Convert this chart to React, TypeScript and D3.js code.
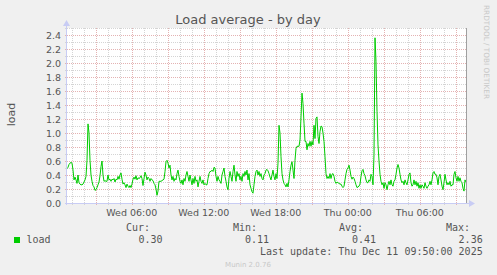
import React from 'react';
import * as d3 from 'd3';

const W = 497;
const H = 275;
const START = new Date(2025, 11, 10, 0, 36);
const STEP_MINUTES = 5;

const loadWedEarly = [
  0.49, 0.51, 0.55, 0.57, 0.58, 0.57, 0.47, 0.33, 0.37, 0.33,
  0.28, 0.40, 0.29, 0.27, 0.26, 0.26, 0.27, 0.30, 0.33, 0.38,
  0.61, 1.13, 1.00, 0.61, 0.40, 0.31, 0.25, 0.23, 0.18, 0.19,
  0.22, 0.26, 0.30, 0.39, 0.52, 0.60, 0.40, 0.31, 0.32, 0.31,
  0.31, 0.40, 0.33, 0.34, 0.31, 0.34, 0.33, 0.35, 0.30, 0.34,
  0.33, 0.38, 0.34, 0.40, 0.43, 0.34, 0.27, 0.29, 0.26, 0.22,
  0.27, 0.24, 0.22, 0.25, 0.22, 0.27, 0.34, 0.37, 0.34, 0.39,
  0.33, 0.36, 0.35, 0.36, 0.39, 0.35, 0.25, 0.35, 0.44, 0.40,
  0.33, 0.37, 0.35, 0.31, 0.35, 0.33, 0.32, 0.28, 0.26, 0.20,
  0.11, 0.17, 0.31, 0.31, 0.31, 0.32, 0.33, 0.34, 0.45, 0.59,
  0.61,
];

const loadWedMid = [
  0.57, 0.50, 0.54, 0.40, 0.33, 0.38, 0.31, 0.35, 0.33, 0.42,
  0.47, 0.38, 0.31, 0.28, 0.33, 0.26, 0.35, 0.31, 0.40, 0.45,
  0.38, 0.31, 0.40, 0.33, 0.26, 0.35, 0.28, 0.38, 0.31, 0.33,
  0.23, 0.31, 0.38, 0.31, 0.28, 0.33, 0.26, 0.28, 0.26, 0.26,
  0.35, 0.42, 0.45, 0.45, 0.47, 0.45, 0.51, 0.50, 0.38, 0.31,
  0.38, 0.33, 0.31, 0.28, 0.40, 0.45, 0.50, 0.38, 0.31, 0.23,
  0.19, 0.35, 0.45, 0.38, 0.31, 0.45, 0.54, 0.40, 0.31, 0.45,
  0.38, 0.42, 0.33, 0.38, 0.31, 0.42, 0.38, 0.45, 0.40, 0.47,
  0.33, 0.42, 0.26, 0.21, 0.16, 0.14, 0.26, 0.38, 0.45, 0.47,
  0.40, 0.45, 0.38, 0.42, 0.35, 0.33, 0.40, 0.42, 0.47, 0.48,
];

const loadWedLate = [
  0.46, 0.42, 0.37, 0.33, 0.40, 0.47, 0.38, 0.33, 0.42, 0.35,
  0.57, 1.11, 1.00, 0.66, 0.42, 0.33, 0.28, 0.26, 0.23, 0.28,
  0.23, 0.33, 0.45, 0.54, 0.59, 0.47, 0.35, 0.61, 0.78, 0.81,
  0.81, 0.81, 0.90, 1.23, 1.57, 1.42, 1.14, 0.88, 0.88, 0.76,
  0.85, 0.81, 0.88, 0.81, 0.88, 0.83, 1.11, 0.92, 1.21, 1.23,
  0.95, 0.85, 1.02, 1.10, 1.09, 1.00, 0.88, 0.66, 0.42, 0.35,
  0.38, 0.35, 0.42, 0.35, 0.41, 0.42, 0.38, 0.31, 0.28, 0.30,
  0.29, 0.28, 0.27, 0.27, 0.24, 0.22, 0.24, 0.33, 0.42, 0.48,
  0.50, 0.54, 0.47, 0.38, 0.34, 0.37, 0.35, 0.31, 0.26, 0.22,
  0.23, 0.24, 0.27, 0.38, 0.46, 0.48, 0.42, 0.39, 0.33, 0.29,
];

const loadThu = [
  0.29, 0.33, 0.31, 0.41, 0.38, 0.26, 0.69, 2.36, 2.02, 1.31,
  0.83, 0.60, 0.41, 0.31, 0.26, 0.29, 0.21, 0.29, 0.26, 0.19,
  0.26, 0.31, 0.26, 0.33, 0.26, 0.24, 0.31, 0.33, 0.41, 0.50,
  0.55, 0.50, 0.41, 0.33, 0.29, 0.31, 0.26, 0.33, 0.29, 0.26,
  0.33, 0.41, 0.43, 0.29, 0.24, 0.26, 0.33, 0.26, 0.31, 0.24,
  0.29, 0.21, 0.26, 0.21, 0.26, 0.24, 0.21, 0.29, 0.24, 0.21,
  0.24, 0.26, 0.31, 0.26, 0.33, 0.43, 0.45, 0.41, 0.41, 0.36,
  0.26, 0.38, 0.41, 0.33, 0.24, 0.19, 0.29, 0.41, 0.33, 0.26,
  0.29, 0.26, 0.31, 0.24, 0.26, 0.26, 0.41, 0.45, 0.36, 0.31,
  0.38, 0.31, 0.36, 0.31, 0.29, 0.21, 0.17, 0.33, 0.30,
];

const loadValues = [...loadWedEarly, ...loadWedMid, ...loadWedLate, ...loadThu];

const yMax = 2.5;
const yLabelTicks = [0, 0.2, 0.4, 0.6, 0.8, 1.0, 1.2, 1.4, 1.6, 1.8, 2.0, 2.2, 2.4];
const yGridTicks = [0.1, 0.2, 0.3, 0.4, 0.5, 0.6, 0.7, 0.8, 0.9, 1.0, 1.1, 1.2, 1.3,
  1.4, 1.5, 1.6, 1.7, 1.8, 1.9, 2.0, 2.1, 2.2, 2.3, 2.4, 2.5];

const seriesName = 'load';
const legendHeaders = ['Cur:', 'Min:', 'Avg:', 'Max:'];
const legendValues = ['0.30', '0.11', '0.41', '2.36'];
const titleText = 'Load average - by day';
const yAxisLabel = 'load';
const lastUpdate = 'Last update: Thu Dec 11 09:50:00 2025';
const footer = 'Munin 2.0.76';
const watermark = 'RRDTOOL / TOBI OETIKER';

export default function App() {
  const left = 67, right = 467, top = 28, bottom = 203;
  const stepMs = STEP_MINUTES * 60000;
  const end = new Date(START.getTime() + loadValues.length * stepMs);
  const x = d3.scaleTime().domain([START, end]).range([left, right]);
  const y = d3.scaleLinear().domain([0, yMax]).range([bottom, top]);
  const data = loadValues.map((v, i) => ({ t: new Date(START.getTime() + i * stepMs), v }));
  const line = d3.line<{ t: Date; v: number }>().x(d => x(d.t)).y(d => y(d.v));
  const hours = d3.timeHour.range(new Date(START.getTime() + 1), end);
  const fmt = d3.timeFormat('%a %H:%M');
  const sans = 'DejaVu Sans, sans-serif';
  const mono = 'DejaVu Sans Mono, monospace';
  const txt = '#555555';
  const axisCol = '#c8ccf4';
  const majorCol = '#e4b2b2';
  const minorCol = '#d4d4d4';
  const legX = [150, 257, 363, 470];
  const valX = [162.5, 269, 376, 482.7];

  return (
    <svg width={W} height={H} style={{ position: 'absolute', left: 0, top: 0 }}
      xmlns="http://www.w3.org/2000/svg">
      <rect x={0} y={0} width={W} height={H} fill="#f0f0f0" />
      <rect x={left} y={top} width={right - left} height={bottom - top} fill="#ffffff" />
      {yGridTicks.map(v => {
        const major = Math.abs(Math.round(v * 10) % 2) === 0;
        const yy = Math.round(y(v)) + 0.5;
        return (
          <line key={'h' + v} x1={left - 2} x2={right} y1={yy} y2={yy}
            stroke={major ? majorCol : minorCol} strokeWidth={1} strokeDasharray="1,1" />
        );
      })}
      {hours.map(h => {
        const major = h.getHours() % 3 === 0;
        const xx = Math.round(x(h)) + 0.5;
        return (
          <line key={'v' + h.getTime()} x1={xx} x2={xx} y1={top} y2={bottom + 2}
            stroke={major ? majorCol : minorCol} strokeWidth={1} strokeDasharray="1,1" />
        );
      })}
      <path d={line(data) || ''} fill="none" stroke="#00cc00" strokeWidth={1} />
      <line x1={right - 0.5} x2={right - 0.5} y1={top} y2={bottom} stroke="#a0a0a0" />
      <line x1={left - 2} x2={right + 3} y1={bottom + 0.5} y2={bottom + 0.5} stroke={axisCol} />
      <line x1={left - 0.5} x2={left - 0.5} y1={bottom + 2} y2={top - 4} stroke={axisCol} />
      <path d={`M${right + 2},${bottom - 3} L${right + 8},${bottom + 0.5} L${right + 2},${bottom + 4} Z`} fill={axisCol} />
      <path d={`M${left - 4},${top - 2} L${left - 0.5},${top - 8} L${left + 3},${top - 2} Z`} fill={axisCol} />
      {yLabelTicks.map(v => (
        <text key={'yl' + v} x={61} y={y(v) + 3.5} textAnchor="end" fontFamily={sans}
          fontSize={9.5} fill={txt}>{v.toFixed(1)}</text>
      ))}
      {hours.filter(h => h.getHours() % 6 === 0).map(h => (
        <text key={'xl' + h.getTime()} x={x(h)} y={215.5} textAnchor="middle" fontFamily={sans}
          fontSize={9.5} fill={txt}>{fmt(h)}</text>
      ))}
      <text x={248} y={24} textAnchor="middle" fontFamily={sans} fontSize={13} fill={txt}>{titleText}</text>
      <text transform="translate(15,114.5) rotate(-90)" textAnchor="middle" fontFamily={sans}
        fontSize={11} fill={txt}>{yAxisLabel}</text>
      <text transform="translate(484,5) rotate(90)" fontFamily={sans} fontSize={7.3}
        fill="#c8c8c8">{watermark}</text>
      <rect x={14} y={237} width={6} height={6} fill="#00cc00" />
      <text x={26.5} y={243} fontFamily={mono} fontSize={10} fill={txt}>{seriesName}</text>
      {legendHeaders.map((s, i) => (
        <text key={'lh' + i} x={legX[i]} y={231} textAnchor="end" fontFamily={mono}
          fontSize={10} fill={txt}>{s}</text>
      ))}
      {legendValues.map((s, i) => (
        <text key={'lv' + i} x={valX[i]} y={243} textAnchor="end" fontFamily={mono}
          fontSize={10} fill={txt}>{s}</text>
      ))}
      <text x={482.7} y={254.5} textAnchor="end" fontFamily={mono} fontSize={10} fill={txt}
        style={{ whiteSpace: 'pre' }}>{lastUpdate}</text>
      <text x={248} y={266.5} textAnchor="middle" fontFamily={sans} fontSize={7}
        fill="#c8c8c8">{footer}</text>
    </svg>
  );
}
